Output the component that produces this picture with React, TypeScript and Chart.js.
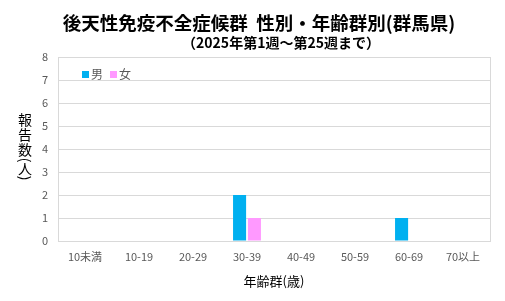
import React, { useEffect, useRef } from "react";
import { Chart, registerables } from "chart.js";

Chart.register(...registerables);

const categories = ["10未満", "10-19", "20-29", "30-39", "40-49", "50-59", "60-69", "70以上"];
const maleValues = [0, 0, 0, 2, 0, 0, 1, 0];
const femaleValues = [0, 0, 0, 1, 0, 0, 0, 0];
const seriesNames = ["男", "女"];
const titleText = "後天性免疫不全症候群  性別・年齢群別(群馬県)";
const subtitleText = "（2025年第1週～第25週まで）";
const xTitle = "年齢群(歳)";
const yTitleChars = ["報", "告", "数", "(", "人", ")"];

const MALE = "#00B0F0";
const FEMALE = "#FF99FF";
const FONT = '"Noto Sans CJK JP", "Noto Sans", sans-serif';
const TXT = "#595959";

const decorPlugin = {
  id: "decor",
  beforeDatasetsDraw(chart: any) {
    const { ctx, chartArea } = chart;
    ctx.save();
    ctx.strokeStyle = "#d9d9d9";
    ctx.lineWidth = 1;
    ctx.strokeRect(
      Math.round(chartArea.left) + 0.5,
      Math.round(chartArea.top) + 0.5,
      Math.round(chartArea.right - chartArea.left),
      Math.round(chartArea.bottom - chartArea.top)
    );
    ctx.restore();
  },
  afterDraw(chart: any) {
    const { ctx, chartArea } = chart;
    ctx.save();
    // Title
    ctx.fillStyle = "#000";
    ctx.textAlign = "center";
    ctx.textBaseline = "middle";
    ctx.font = `bold 18.5px ${FONT}`;
    ctx.fillText(titleText, 259, 23);
    ctx.font = `bold 14px ${FONT}`;
    ctx.fillText(subtitleText, 281, 43);
    // X title
    ctx.font = `13px ${FONT}`;
    ctx.fillText(xTitle, (chartArea.left + chartArea.right) / 2, 281);
    // Y title (vertical stacked)
    ctx.font = `14px ${FONT}`;
    const ys = [120, 135, 150, 160, 169, 178];
    yTitleChars.forEach((c, i) => {
      if (c === "(" || c === ")") {
        ctx.save();
        ctx.translate(25, ys[i]);
        ctx.rotate(Math.PI / 2);
        ctx.fillText(c, 0, 0);
        ctx.restore();
      } else {
        ctx.fillText(c, 25, ys[i]);
      }
    });
    // Legend inside plot
    ctx.font = `12px ${FONT}`;
    ctx.textAlign = "left";
    const ly = 74.5;
    const items = [
      { x: 82, color: MALE, label: seriesNames[0] },
      { x: 110, color: FEMALE, label: seriesNames[1] },
    ];
    items.forEach((it) => {
      ctx.fillStyle = it.color;
      ctx.fillRect(it.x, ly - 3.5, 7, 7);
      ctx.fillStyle = TXT;
      ctx.fillText(it.label, it.x + 9, ly);
    });
    ctx.restore();
  },
};

export default function App() {
  const ref = useRef<HTMLCanvasElement>(null);
  useEffect(() => {
    if (!ref.current) return;
    const chart = new Chart(ref.current, {
      type: "bar",
      data: {
        labels: categories,
        datasets: [
          {
            label: seriesNames[0],
            data: maleValues,
            backgroundColor: MALE,
            barPercentage: 0.88,
            categoryPercentage: 0.55,
          },
          {
            label: seriesNames[1],
            data: femaleValues,
            backgroundColor: FEMALE,
            barPercentage: 0.88,
            categoryPercentage: 0.55,
          },
        ],
      },
      options: {
        responsive: false,
        animation: false,
        devicePixelRatio: 1,
        layout: { padding: { top: 57, right: 15, left: 0, bottom: 0 } },
        plugins: {
          legend: { display: false },
          title: { display: false },
          tooltip: { enabled: false },
        },
        scales: {
          x: {
            grid: { display: false, drawTicks: false },
            border: { display: false },
            ticks: {
              color: TXT,
              font: { family: FONT, size: 11 },
              padding: 9,
              maxRotation: 0,
              autoSkip: false,
            },
            afterFit: (s: any) => {
              s.height = 60;
            },
          },
          y: {
            min: 0,
            max: 8,
            grid: { color: "#d9d9d9", drawTicks: false },
            border: { display: false },
            ticks: {
              stepSize: 1,
              color: TXT,
              font: { family: FONT, size: 11 },
              padding: 10,
            },
            afterFit: (s: any) => {
              s.width = 58;
            },
          },
        },
      },
      plugins: [decorPlugin],
    });
    return () => chart.destroy();
  }, []);
  return (
    <div style={{ position: "absolute", left: 0, top: 0, width: 505, height: 301, background: "#fff" }}>
      <canvas ref={ref} width={505} height={301} />
    </div>
  );
}
